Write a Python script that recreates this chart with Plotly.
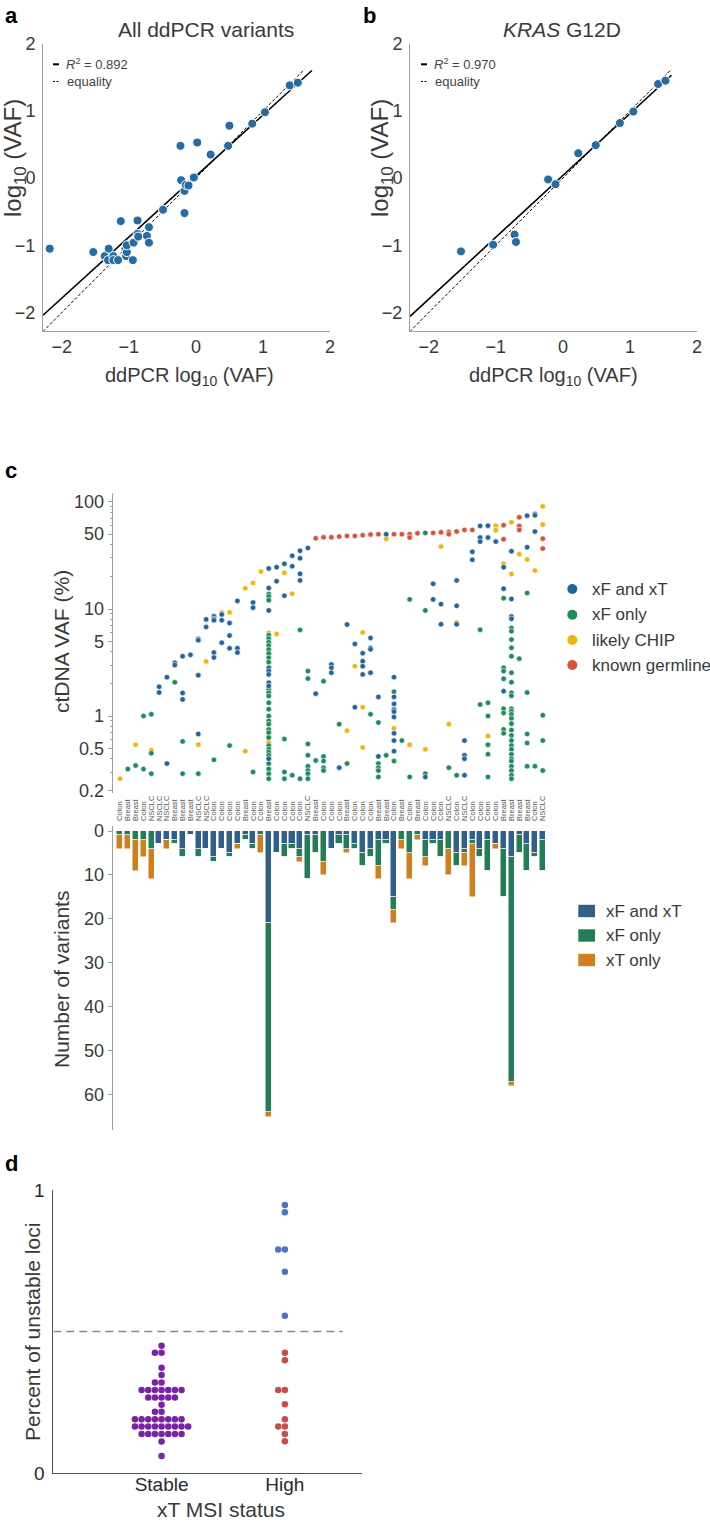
import numpy as np
import plotly.graph_objects as go

W, H = 710, 1523
def X(px): return px / W
def Y(py): return 1 - py / H

FONT = "Liberation Sans, Arial, Helvetica, sans-serif"
TXT = "#3a3a3a"
LC = "#a0a0a0"

# ---------------- panel a : all ddPCR variants ----------------
a_ddpcr_log = [-2.18, -1.53, -1.36, -1.30, -1.31, -1.23, -1.23, -1.16, -1.12, -1.05, -1.04, -1.03,
               -1.03, -0.94, -0.93, -0.87, -0.87, -0.86, -0.73, -0.70, -0.70, -0.49, -0.23, -0.22,
               -0.17, -0.15, -0.17, -0.11, -0.03, 0.02, 0.22, 0.48, 0.50, 0.84, 1.03, 1.40, 1.52]
a_seq_log = [-1.05, -1.10, -1.16, -1.05, -1.22, -1.16, -1.22, -1.22, -0.64, -1.05, -1.16, -1.10,
             -1.00, -1.22, -0.96, -0.63, -0.83, -0.87, -0.86, -0.73, -0.96, -0.47, 0.48, -0.03,
             -0.19, -0.10, -0.52, -0.11, 0.01, 0.53, 0.35, 0.48, 0.78, 0.81, 0.98, 1.38, 1.42]
a_r2 = "0.892"
a_fit = (0.908, 0.03, 1.73)       # slope, intercept, last x
a_eq_end = 1.62

# ---------------- panel b : KRAS G12D ----------------
b_ddpcr_log = [-1.52, -1.04, -0.72, -0.70, -0.22, -0.11, 0.23, 0.49, 0.85, 1.05, 1.42, 1.53]
b_seq_log = [-1.09, -0.99, -0.84, -0.95, -0.02, -0.09, 0.37, 0.49, 0.82, 0.99, 1.40, 1.45]
b_r2 = "0.970"
b_fit = (0.92, 0.04, 1.62)
b_eq_end = 1.62

ab_ticks = [-2, -1, 0, 1, 2]
ab_range = [-2.28, 2]

# ---------------- panel c : per-sample variants ----------------
tumor_type = ["Colon", "Breast", "Breast", "Colon", "NSCLC", "NSCLC", "NSCLC", "Breast", "Breast", "Breast",
              "NSCLC", "NSCLC", "Colon", "Colon", "Colon", "Colon", "Breast", "Colon", "Colon", "Breast",
              "Colon", "Colon", "Colon", "Colon", "NSCLC", "Breast", "Colon", "Colon", "Colon", "Breast",
              "Colon", "Colon", "Colon", "Breast", "Breast", "Colon", "Breast", "Colon", "Breast", "Colon",
              "Colon", "Colon", "NSCLC", "Colon", "NSCLC", "Colon", "Colon", "Colon", "Colon", "Breast",
              "Breast", "Breast", "Breast", "Colon", "NSCLC"]

vaf_xf_xt = [
    [], [], [], [], [],
    [1.88, 1.66], [2.31, 0.36], [3.14, 3.0], [3.62, 1.64, 1.43], [3.73],
    [5.25, 5.1, 2.41, 0.68], [8.0, 6.8], [8.54, 8.1, 7.85, 3.92, 3.52], [8.9, 7.85, 4.85], [7.4, 5.65, 4.3],
    [11.9, 4.3, 3.92], [], [11.5, 10.3], [], [23.9, 15.7, 9.7, 2.82, 2.63, 2.45, 2.05, 1.91, 0.40],
    [24.6, 18.2], [26.4, 13.3], [31.4, 25.1], [35, 29.8, 21.3, 18.5], [37.2],
    [1.62], [], [3.03, 2.82, 2.54], [0.33], [7.15],
    [4.72, 1.21], [3.87, 3.26, 2.92, 2.45], [5.37, 4.33, 4.2, 2.54], [1.51, 0.42], [50],
    [2.31, 1.51, 1.30, 1.15, 1.1, 0.98, 0.69, 0.59, 0.47], [], [], [], [0.27],
    [17.2, 12.3], [11.1, 7.2], [], [18.5, 10.7, 7.2], [0.59, 0.43, 0.40, 0.28],
    [34.2, 28.8], [59.7, 46.5, 42.6], [60, 46.5], [42.6], [24.6, 15.5, 1.71],
    [34.6, 12.4, 8.5, 8.1], [], [74.5, 37.8], [77.3, 75, 52.9], [],
]
vaf_xf_only = [
    [], [0.32], [0.345], [1.0, 0.32], [1.04, 0.45, 0.29],
    [], [], [2.07], [0.58, 0.29], [],
    [0.29], [], [0.39], [], [0.53],
    [], [], [0.30], [], [13.8, 13.1, 12.1, 5.69, 5.29, 4.90, 4.56, 4.18, 3.84, 3.50, 3.19, 1.77, 1.65,
                         1.54, 1.33, 1.16, 1.0, 0.90, 0.84, 0.75, 0.70, 0.63, 0.53, 0.49, 0.46, 0.43,
                         0.36, 0.32, 0.29, 0.26],
    [], [0.61, 0.30, 0.26], [0.28], [6.38, 0.26], [2.63, 2.24, 0.55, 0.43, 0.34, 0.31, 0.29, 0.26],
    [0.385], [2.12, 0.42, 0.38, 0.33, 0.31], [], [0.84], [0.36],
    [], [], [1.04], [0.87, 0.36, 0.33, 0.31, 0.27], [0.43],
    [1.69, 0.38], [0.59], [12.3, 0.27], [], [51.4, 9.7, 0.29],
    [], [], [0.33], [0.28], [],
    [], [6.4, 1.28], [1.33, 1.0, 0.54, 0.44, 0.27], [], [12.6, 2.82, 2.63, 2.23, 1.17, 1.07, 0.75, 0.69],
    [6.65, 6.2, 5.18, 4.34, 3.62, 2.54, 2.07, 1.65, 1.55, 1.17, 1.11, 1.04, 0.95, 0.85, 0.74, 0.66,
     0.59, 0.53, 0.49, 0.44, 0.40, 0.38, 0.34, 0.31, 0.28, 0.26],
    [3.44], [14.1, 1.66, 0.68, 0.56, 0.34], [0.34], [1.02, 0.59, 0.31],
]
vaf_chip = [
    [0.26], [], [0.54], [], [0.48],
    [], [], [], [], [],
    [0.54], [3.24], [], [9.3], [9.3],
    [], [15.6, 0.47], [17.5], [22.4], [5.98, 0.57],
    [5.85], [21.8], [13.9], [], [],
    [], [], [], [], [0.73],
    [2.92], [6.05, 1.21, 0.51], [], [], [45.2],
    [0.77], [], [0.54], [], [0.49],
    [], [38.3], [0.84], [7.5], [],
    [], [], [0.65], [60, 54.4], [26.4],
    [64.6, 21.2], [32.5], [29], [22.9], [91, 61.5],
]
vaf_germline = [
    [], [], [], [], [],
    [], [], [], [], [],
    [], [], [], [], [],
    [], [], [], [], [],
    [], [], [], [], [],
    [45.8], [46.8], [46.8], [47.5], [48.2],
    [48.2], [48.9], [49.6], [50], [],
    [50], [50], [50, 46.5], [51], [],
    [51.4], [52], [52.5, 50], [53], [54.8],
    [54.8], [], [], [], [60.6, 44.8],
    [], [71.9, 59.7, 54.8], [], [], [45.4, 36.7],
]
vaf_ticks = [0.2, 0.5, 1, 5, 10, 50, 100]
vaf_tick_text = ["0.2", "0.5", "1", "5", "10", "50", "100"]

n_xf_xt = [0, 0, 0, 0, 0, 3, 2, 2, 4, 1, 4, 4, 6, 4, 5, 3, 1, 3, 0, 21, 5, 3, 3, 4, 1, 1, 0, 4, 1, 1,
           3, 5, 4, 2, 2, 15, 0, 0, 0, 2, 2, 2, 0, 5, 4, 2, 4, 2, 3, 4, 6, 1, 3, 5, 2]
n_xf_only = [1, 1, 2, 2, 4, 0, 0, 1, 2, 0, 2, 0, 1, 0, 1, 0, 1, 1, 1, 43, 0, 3, 1, 2, 10, 4, 7, 0, 2, 3,
             1, 3, 2, 6, 1, 3, 2, 5, 1, 4, 1, 4, 4, 3, 1, 1, 2, 7, 0, 11, 51, 4, 6, 1, 7]
n_xt_only = [3, 3, 7, 4, 7, 0, 2, 0, 0, 0, 0, 0, 0, 0, 0, 1, 0, 0, 4, 1, 0, 0, 0, 1, 0, 0, 3, 0, 0, 1,
             0, 0, 0, 3, 0, 3, 2, 6, 1, 2, 0, 0, 6, 0, 3, 12, 0, 0, 1, 0, 1, 0, 0, 0, 0]
count_ticks = [0, 10, 20, 30, 40, 50, 60]

# ---------------- panel d : MSI ----------------
msi_categories = ["Stable", "High"]
stable_unstable = [0.450, 0.425, 0.425, 0.372, 0.346, 0.320, 0.320,
                   0.293, 0.293, 0.293, 0.293, 0.293, 0.293, 0.293,
                   0.267, 0.267, 0.267, 0.267, 0.267, 0.241, 0.216, 0.216,
                   0.190, 0.190, 0.190, 0.190, 0.190, 0.190, 0.190, 0.190,
                   0.164, 0.164, 0.164, 0.164, 0.164, 0.164, 0.164, 0.164, 0.164,
                   0.138, 0.138, 0.138, 0.138, 0.138, 0.138, 0.138, 0.111, 0.060]
high_above = [0.947, 0.921, 0.790, 0.790, 0.711, 0.556]
high_below = [0.425, 0.398, 0.293, 0.293, 0.243, 0.190, 0.164, 0.164, 0.138, 0.112]
msi_threshold = 0.5

# ---------------- colours ----------------
DOT_AB = "#276ba3"
C_BLUE, C_GREEN, C_YELLOW, C_RED = "#22649c", "#1d8c5a", "#f2b50f", "#d6533b"
B_BLUE, B_GREEN, B_ORANGE = "#2f5f8a", "#237d57", "#d17f1d"
D_PURPLE, D_RED, D_BLUE = "#7a22a6", "#cb4b4b", "#4a73c2"

fig = go.Figure()

# ---- panels a & b ----
for (xs, ys, fit, eq_end, xa, ya) in [(a_ddpcr_log, a_seq_log, a_fit, a_eq_end, "x", "y"),
                                      (b_ddpcr_log, b_seq_log, b_fit, b_eq_end, "x2", "y2")]:
    eqx = np.array([ab_range[0], eq_end])
    fig.add_trace(go.Scatter(x=eqx, y=eqx, mode="lines", xaxis=xa, yaxis=ya,
                             line=dict(color="black", width=1, dash="3px,2px"), hoverinfo="skip"))
    fx = np.array([ab_range[0], fit[2]])
    fig.add_trace(go.Scatter(x=fx, y=fit[0] * fx + fit[1], mode="lines", xaxis=xa, yaxis=ya,
                             line=dict(color="black", width=1.6), hoverinfo="skip"))
    fig.add_trace(go.Scatter(x=xs, y=ys, mode="markers", xaxis=xa, yaxis=ya,
                             marker=dict(size=9, color=DOT_AB, line=dict(color="white", width=1))))

# ---- panel c scatter ----
def flat(lst):
    xs = [i for i, vs in enumerate(lst) for _ in vs]
    ys = [v for vs in lst for v in vs]
    return xs, ys

for lst, col in [(vaf_germline, C_RED), (vaf_chip, C_YELLOW), (vaf_xf_only, C_GREEN), (vaf_xf_xt, C_BLUE)]:
    xs, ys = flat(lst)
    fig.add_trace(go.Scatter(x=xs, y=ys, mode="markers", xaxis="x3", yaxis="y3",
                             marker=dict(size=5.5, color=col, line=dict(color="white", width=0.6))))

# ---- panel c bars ----
idx = list(range(len(tumor_type)))
for vals, col in [(n_xf_xt, B_BLUE), (n_xf_only, B_GREEN), (n_xt_only, B_ORANGE)]:
    fig.add_trace(go.Bar(x=idx, y=vals, xaxis="x4", yaxis="y4", width=0.78,
                         marker=dict(color=col, line=dict(color="rgba(255,255,255,0.85)", width=0.6))))

# ---- panel d swarm ----
def swarm(vals, center, step):
    out, seen = [], {}
    for v in vals:
        k = seen.get(v, 0)
        seen[v] = k + 1
        off = 0 if k == 0 else (-((k + 1) // 2) if k % 2 == 1 else k // 2)
        out.append(center + off * step)
    return out

STEP = 0.054
fig.add_trace(go.Scatter(x=swarm(stable_unstable, 0, STEP), y=stable_unstable, mode="markers",
                         xaxis="x5", yaxis="y5", marker=dict(size=6.5, color=D_PURPLE)))
fig.add_trace(go.Scatter(x=swarm(high_above, 1, STEP), y=high_above, mode="markers",
                         xaxis="x5", yaxis="y5", marker=dict(size=6.5, color=D_BLUE)))
fig.add_trace(go.Scatter(x=swarm(high_below, 1, STEP), y=high_below, mode="markers",
                         xaxis="x5", yaxis="y5", marker=dict(size=6.5, color=D_RED)))
d_xrange = [-0.878, 1.623]
fig.add_trace(go.Scatter(x=[d_xrange[0], 1.47], y=[msi_threshold, msi_threshold], mode="lines",
                         xaxis="x5", yaxis="y5", line=dict(color="#8a8a8a", width=1.4, dash="8px,5px")))

tf = dict(family=FONT, size=18, color=TXT)
base = dict(showgrid=False, zeroline=False, automargin=False, tickfont=tf)

layout = dict(
    width=W, height=H, margin=dict(l=0, r=0, t=0, b=0),
    paper_bgcolor="white", plot_bgcolor="white", showlegend=False,
    font=dict(family=FONT, color=TXT),
    barmode="stack", bargap=0,
    xaxis=dict(base, domain=[X(43), X(330)], range=ab_range, tickvals=ab_ticks, showline=True,
               linecolor=LC, linewidth=1, ticks="", anchor="y", ticklabelstandoff=0),
    yaxis=dict(base, domain=[Y(330.7), Y(43.7)], range=[-2.27, 2], tickvals=ab_ticks, showline=True,
               linecolor=LC, linewidth=1, ticks="", anchor="x", ticklabelstandoff=3),
    xaxis2=dict(base, domain=[X(410), X(697)], range=ab_range, tickvals=ab_ticks, showline=True,
                linecolor=LC, linewidth=1, ticks="", anchor="y2", ticklabelstandoff=0),
    yaxis2=dict(base, domain=[Y(330.7), Y(43.7)], range=[-2.27, 2], tickvals=ab_ticks, showline=True,
                linecolor=LC, linewidth=1, ticks="", anchor="x2", ticklabelstandoff=3),
    xaxis3=dict(base, domain=[X(112.7), X(547)], range=[-0.93, 54.54], showticklabels=False,
                showline=False, ticks="", anchor="y3"),
    yaxis3=dict(base, domain=[Y(793.3), Y(492.7)], type="log", range=[np.log10(0.19), np.log10(122)],
                tickvals=vaf_ticks, ticktext=vaf_tick_text, showline=True, linecolor=LC, linewidth=1,
                ticks="outside", ticklen=4, tickcolor=LC, anchor="x3",
                minor=dict(ticks="outside", ticklen=2, tickcolor=LC,
                           tickvals=[0.3, 0.4, 0.6, 0.7, 0.8, 0.9, 2, 3, 4, 6, 7, 8, 9,
                                     20, 30, 40, 60, 70, 80, 90])),
    xaxis4=dict(base, domain=[X(112.7), X(547)], range=[-0.93, 54.54], side="top", tickvals=idx,
                ticktext=tumor_type, tickangle=-90, ticks="", showline=False, anchor="y4",
                tickfont=dict(family=FONT, size=7.5, color="#555555"), ticklabelstandoff=4),
    yaxis4=dict(base, domain=[Y(1130), Y(826)], range=[68, -1.14], tickvals=count_ticks, showline=True,
                linecolor=LC, linewidth=1, ticks="outside", ticklen=4, tickcolor=LC, anchor="x4"),
    xaxis5=dict(base, domain=[X(53.3), X(361.7)], range=d_xrange, tickvals=[0, 1], ticktext=msi_categories,
                showline=True, linecolor="#555555", linewidth=1, ticks="", anchor="y5", ticklabelstandoff=-6,
                tickfont=dict(family=FONT, size=19, color="#2a2a2a")),
    yaxis5=dict(base, domain=[Y(1473), Y(1190)], range=[0, 1], tickvals=[0, 1], showline=True,
                linecolor="#555555", linewidth=1, ticks="", anchor="x5", ticklabelstandoff=4,
                tickfont=dict(family=FONT, size=19, color="#2a2a2a")),
)
fig.update_layout(**layout)

anns, shapes = [], []
def ann(text, x, y, size, color=TXT, xanchor="center", angle=0):
    anns.append(dict(text=text, x=X(x), y=Y(y), xref="paper", yref="paper", showarrow=False,
                     xanchor=xanchor, yanchor="middle", textangle=angle,
                     font=dict(family=FONT, size=size, color=color)))

# panel letters
for letter, (lx, ly) in zip("abcd", [(11, 15), (369, 15), (11, 470), (11, 1163)]):
    ann("<b>%s</b>" % letter, lx, ly, 22, color="black")

# panel a/b texts
ann("All ddPCR variants", 206, 30, 21)
ann("<i>KRAS</i> G12D", 562, 30, 21)
for cx in (14, 381):
    ann("log<sub>10</sub> (VAF)", cx, 158, 24, angle=-90)
for cx in (190, 553):
    ann("ddPCR log<sub>10</sub> (VAF)", cx, 376, 20)
for (x0, r2) in [(53, a_r2), (421, b_r2)]:
    shapes.append(dict(type="line", xref="paper", yref="paper", x0=X(x0), x1=X(x0 + 6),
                       y0=Y(64.3), y1=Y(64.3), line=dict(color="black", width=2)))
    shapes.append(dict(type="line", xref="paper", yref="paper", x0=X(x0), x1=X(x0 + 6),
                       y0=Y(81.5), y1=Y(81.5), line=dict(color="black", width=1, dash="2px,1.5px")))
    ann("<i>R</i><sup>2</sup> = %s" % r2, x0 + 11, 64, 13, color="#444444", xanchor="left")
    ann("equality", x0 + 12, 81.5, 13, color="#444444", xanchor="left")

# panel c texts
ann("ctDNA VAF (%)", 61, 642, 21, angle=-90)
ann("Number of variants", 61, 980, 21, angle=-90)
for (label, col), yy in zip([("xF and xT", C_BLUE), ("xF only", C_GREEN), ("likely CHIP", C_YELLOW),
                             ("known germline", C_RED)], [589, 614.7, 640, 665]):
    shapes.append(dict(type="circle", xref="paper", yref="paper", x0=X(567.3), x1=X(577.3),
                       y0=Y(yy + 5), y1=Y(yy - 5), fillcolor=col, line=dict(width=0)))
    ann(label, 590, yy, 17, xanchor="left")
for (label, col), yy in zip([("xF and xT", B_BLUE), ("xF only", B_GREEN), ("xT only", B_ORANGE)],
                            [911, 935.5, 960]):
    shapes.append(dict(type="rect", xref="paper", yref="paper", x0=X(578.3), x1=X(595),
                       y0=Y(yy + 6.2), y1=Y(yy - 6.2), fillcolor=col, line=dict(width=0)))
    ann(label, 604, yy, 17, xanchor="left")

# panel d texts
ann("Percent of unstable loci", 32, 1332, 21, angle=-90)
ann("xT MSI status", 221, 1509, 21)

fig.update_layout(annotations=anns, shapes=shapes)
fig.write_html("out.html", config={"displayModeBar": False},
               post_script="document.body.style.margin='0px';")
